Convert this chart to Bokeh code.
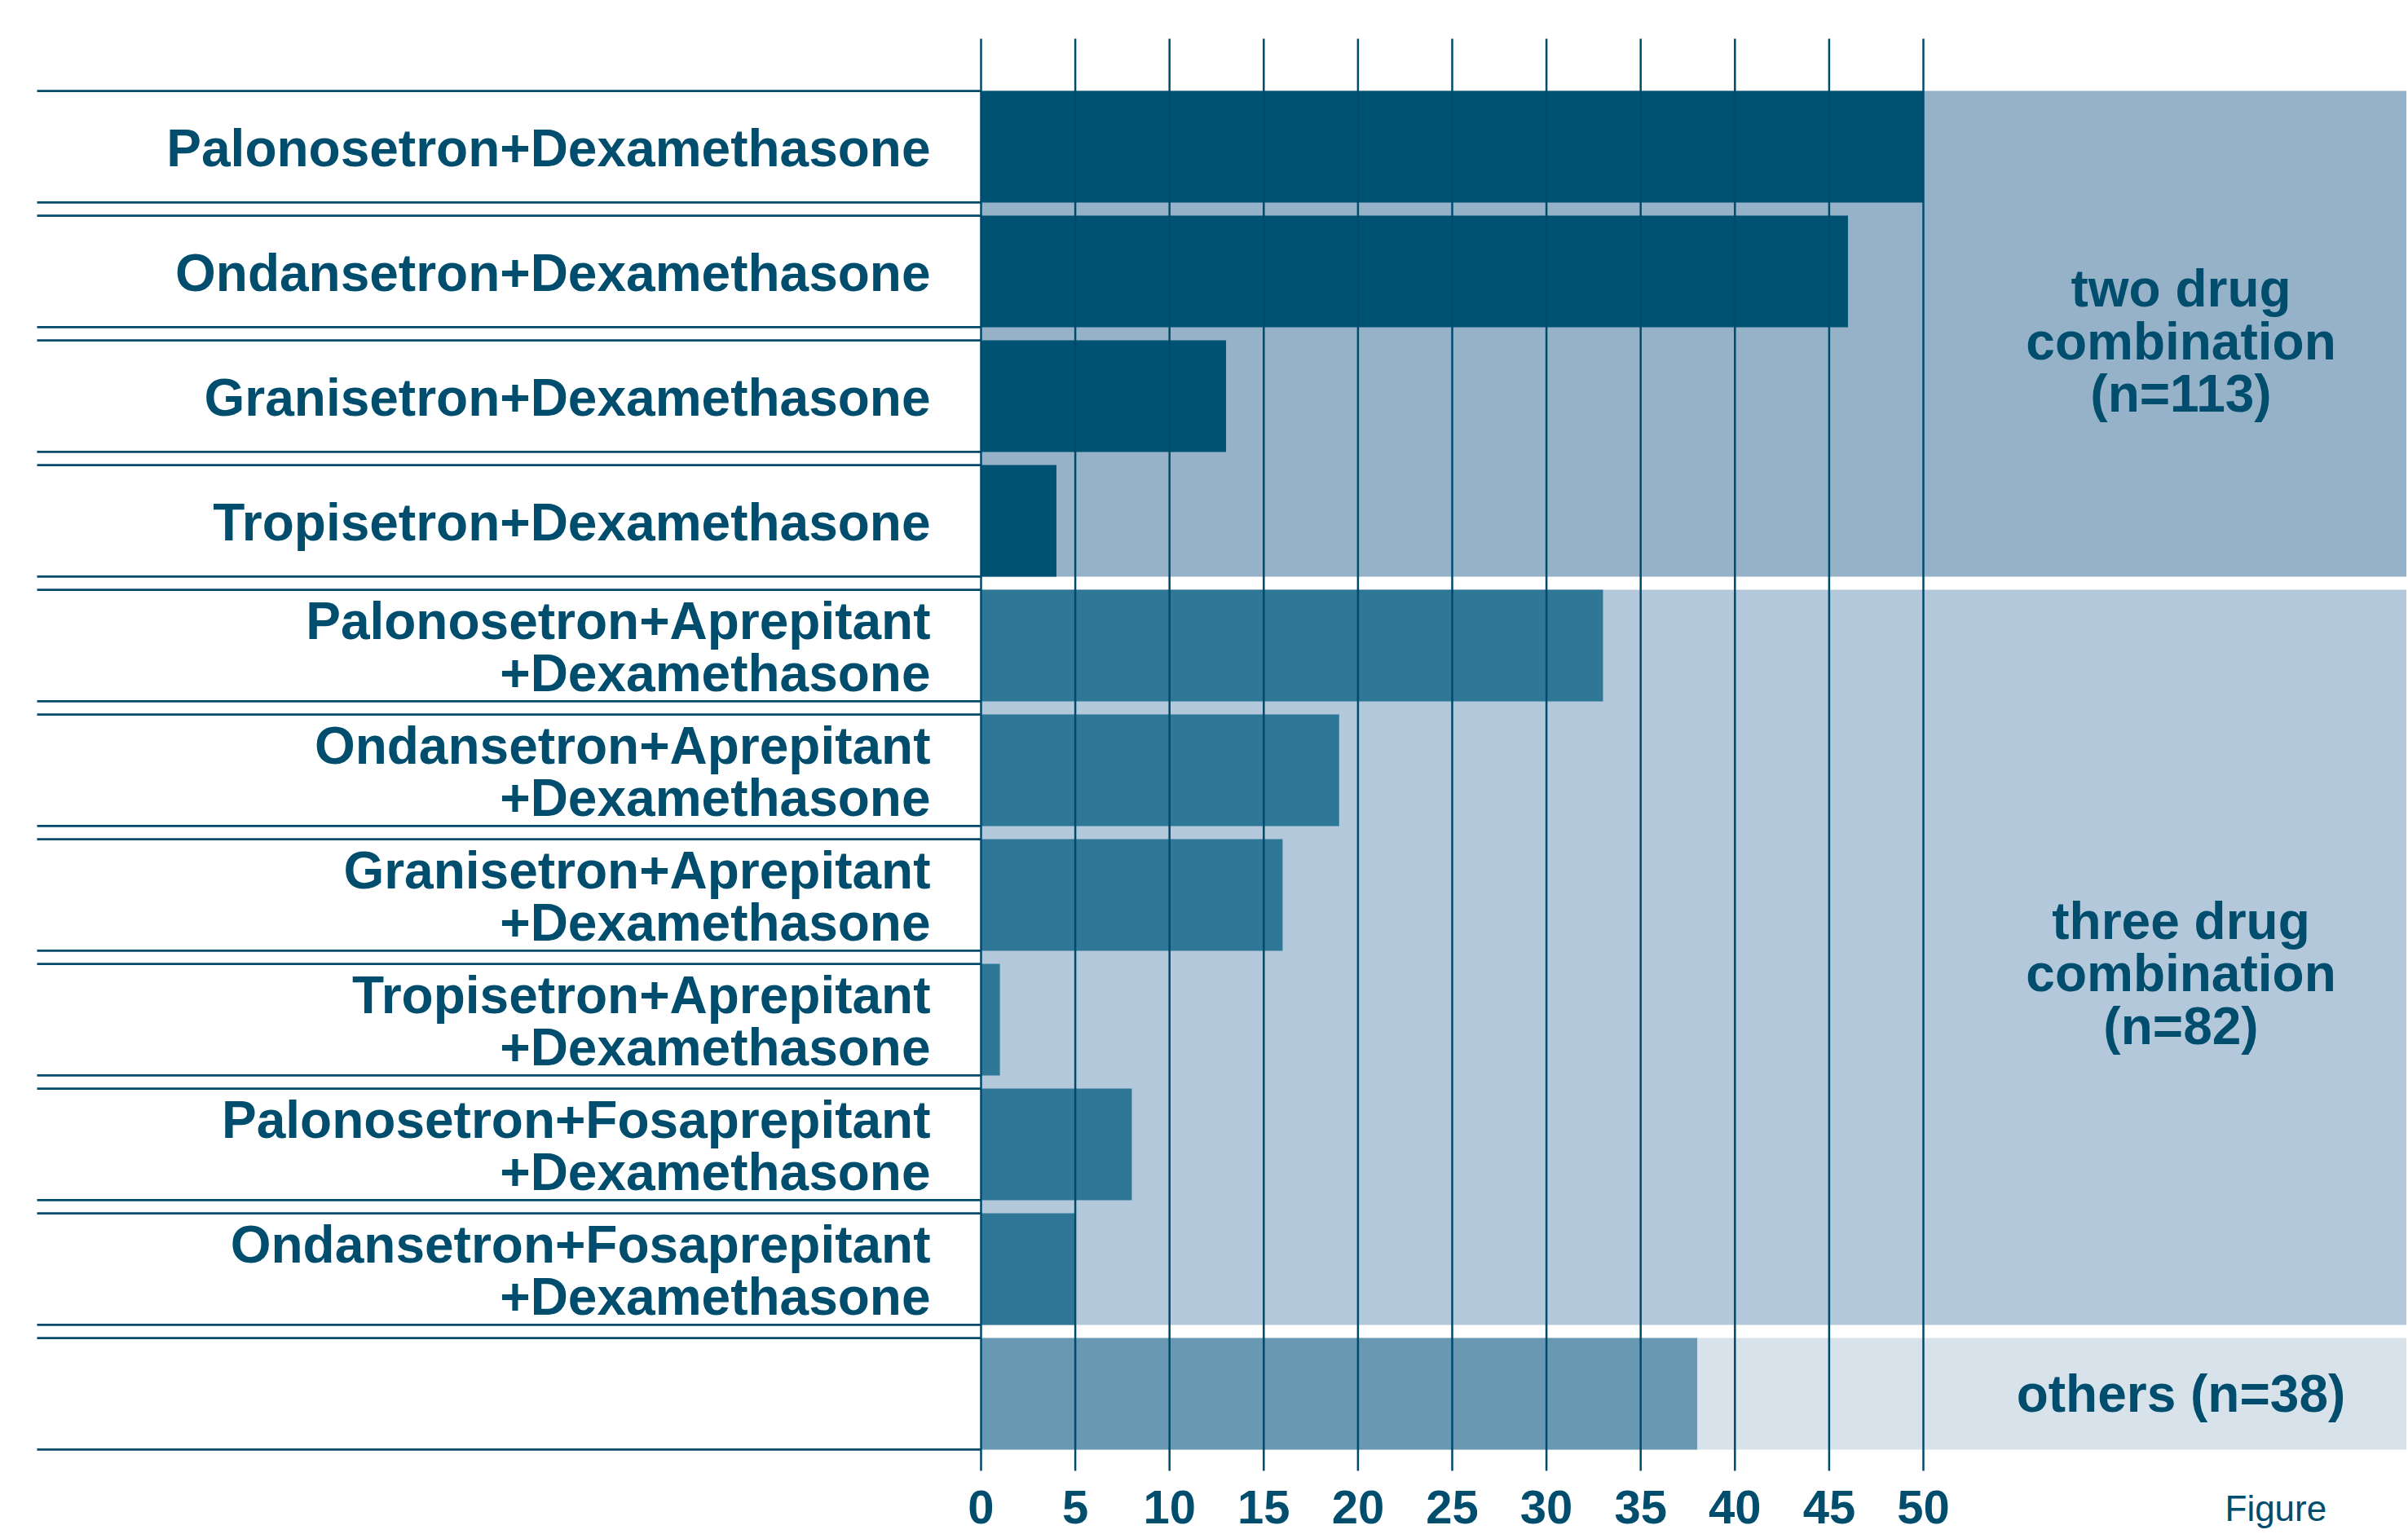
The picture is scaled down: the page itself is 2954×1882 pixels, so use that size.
from bokeh.plotting import figure
from bokeh.models import Range1d, ColumnDataSource
from bokeh.core.properties import value
from bokeh.embed import file_html
from bokeh.resources import INLINE

# ---------------- data ----------------
regimens = [
    "Palonosetron+Dexamethasone",
    "Ondansetron+Dexamethasone",
    "Granisetron+Dexamethasone",
    "Tropisetron+Dexamethasone",
    "Palonosetron+Aprepitant\n+Dexamethasone",
    "Ondansetron+Aprepitant\n+Dexamethasone",
    "Granisetron+Aprepitant\n+Dexamethasone",
    "Tropisetron+Aprepitant\n+Dexamethasone",
    "Palonosetron+Fosaprepitant\n+Dexamethasone",
    "Ondansetron+Fosaprepitant\n+Dexamethasone",
    "",
]
patients = [50, 46, 13, 4, 33, 19, 16, 1, 8, 5, 38]
regimen_group = ["two", "two", "two", "two",
                 "three", "three", "three", "three", "three", "three",
                 "others"]
group_names = ["two", "three", "others"]
group_titles = ["two drug\ncombination\n(n=113)",
                "three drug\ncombination\n(n=82)",
                "others (n=38)"]
tick_values = [0, 5, 10, 15, 20, 25, 30, 35, 40, 45, 50]
tick_labels = [str(t) for t in tick_values]
caption = "Figure"

# ---------------- styling / layout ----------------
FONT = "Liberation Sans"
TEXT = "#004d6d"
GRID = "#004a6c"
BAR_COLORS = {"two": "#005272", "three": "#2e7797", "others": "#6898b2"}
BAND_COLORS = {"two": "#95b2c8", "three": "#b3c8da", "others": "#d8e2eb"}

W, H = 2952, 1880
PX = 23.12            # pixels per unit on x
ZERO_PX = 1203        # canvas x of value 0
ROW_PX = 153          # pixels per row
ROW0_PX = 179.5       # canvas y of first row centre
BAR_H = 0.895

x_start = -ZERO_PX / PX
x_end = x_start + W / PX
y_top_val = -ROW0_PX / ROW_PX
y_bot_val = y_top_val + H / ROW_PX


def ypx(py):
    return y_top_val + py / ROW_PX


def xpx(px):
    return x_start + px / PX


rows = list(range(len(regimens)))

p = figure(width=W, height=H, output_backend="svg", toolbar_location=None,
           x_range=Range1d(x_start, x_end), y_range=Range1d(y_bot_val, y_top_val),
           x_axis_location=None, y_axis_location=None,
           min_border=0, min_border_left=0, min_border_right=0,
           min_border_top=0, min_border_bottom=0,
           outline_line_color=None, background_fill_color="white",
           border_fill_color="white")
p.xgrid.visible = False
p.ygrid.visible = False

# group background bands
for g in group_names:
    idx = [i for i in rows if regimen_group[i] == g]
    p.quad(left=0, right=x_end, top=min(idx) - BAR_H / 2, bottom=max(idx) + BAR_H / 2,
           fill_color=BAND_COLORS[g], line_color=None)

# bars
src = ColumnDataSource(dict(
    y=rows, v=patients,
    color=[BAR_COLORS[g] for g in regimen_group],
    label=regimens,
    top=[r - BAR_H / 2 for r in rows],
    bot=[r + BAR_H / 2 for r in rows],
))
p.hbar(y="y", left=0, right="v", height=BAR_H, fill_color="color",
       line_color=None, source=src)

# vertical grid lines at the tick values (drawn above bars)
tsrc = ColumnDataSource(dict(x=tick_values, label=tick_labels))
p.segment(x0="x", x1="x", y0=ypx(47), y1=ypx(1804), line_color=GRID,
          line_width=2.5, source=tsrc)

# tick labels
p.text(x="x", y=ypx(1848), text="label", source=tsrc, text_align="center",
       text_baseline="middle", text_font=value(FONT),
       text_font_style="bold", text_font_size="58px", text_color=TEXT)

# row rules in the label area
line_left = xpx(45)
p.segment(x0=line_left, x1=0, y0="top", y1="top", line_color=GRID,
          line_width=2.7, source=src)
p.segment(x0=line_left, x1=0, y0="bot", y1="bot", line_color=GRID,
          line_width=2.7, source=src)

# regimen labels
p.text(x=0, y="y", text="label", source=src, x_offset=-62, y_offset=2,
       text_align="right", text_baseline="middle",
       text_font=value(FONT), text_font_style="bold",
       text_font_size="64px", text_color=TEXT, text_line_height=0.9)

# group titles
gx = xpx(2675)
for g, t in zip(group_names, group_titles):
    idx = [i for i in rows if regimen_group[i] == g]
    yc = (min(idx) + max(idx)) / 2
    yoff = {"two": 0.06, "three": 0.13, "others": 0.0}[g]
    p.text(x=[gx], y=[yc + yoff], text=[t], text_align="center",
           text_baseline="middle", text_font=value(FONT),
           text_font_style="bold", text_font_size="64px",
           text_color=TEXT, text_line_height=0.9)

# partially visible caption at bottom right
p.text(x=[xpx(2729)], y=[ypx(1850)], text=[caption], text_align="left",
       text_baseline="middle", text_font=value(FONT),
       text_font_size="44px", text_color=TEXT)

open("out.html", "w").write(file_html(p, INLINE))
